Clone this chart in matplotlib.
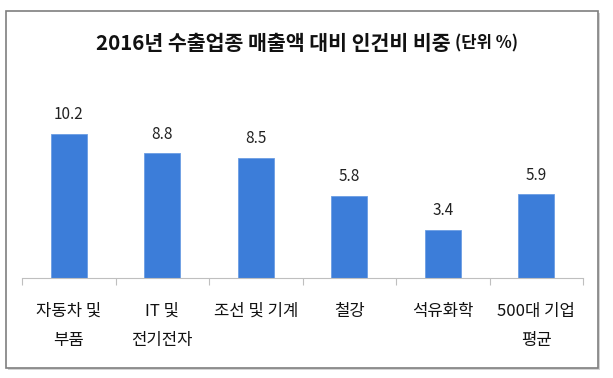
import matplotlib.pyplot as plt
from matplotlib.patches import Rectangle
import numpy as np

plt.rcParams['font.family'] = ['Noto Sans CJK KR', 'DejaVu Sans']

categories = ['자동차 및\n부품', 'IT 및\n전기전자', '조선 및 기계', '철강', '석유화학', '500대 기업\n평균']
values = [10.2, 8.8, 8.5, 5.8, 3.4, 5.9]

BAR_COLOR = '#3c7dd9'
W, H = 613, 378

fig = plt.figure(figsize=(W / 100, H / 100), dpi=100)

# outer frame with a faint shadow, like the spreadsheet chart box
fig.patches.append(Rectangle((8 / W, 1 - 370 / H), 592 / W, 357 / H, transform=fig.transFigure,
                             facecolor='#d4d4d4', edgecolor='none', zorder=0))
fig.patches.append(Rectangle((6 / W, 1 - 368 / H), 592 / W, 357 / H, transform=fig.transFigure,
                             facecolor='white', edgecolor='#7f7f7f', linewidth=1.2, zorder=1))

ax = fig.add_axes([22 / W, 100 / H, 561 / W, 170 / H])
ax.set_zorder(2)
ax.patch.set_alpha(0)

x = np.arange(len(categories))
ax.bar(x, values, width=0.39, color=BAR_COLOR, edgecolor='#6b9de3', linewidth=0.6)
for xi, v in zip(x, values):
    ax.text(xi, v + 0.75, f'{v:.1f}', ha='center', va='bottom', fontsize=11, color='#222222')

ax.set_xlim(-0.5, len(categories) - 0.5)
ax.set_ylim(0, 12)
ax.set_yticks([])
for s in ['top', 'right', 'left']:
    ax.spines[s].set_visible(False)
ax.spines['bottom'].set_color('#bfbfbf')

ax.set_xticks(x)
ax.set_xticklabels(categories, fontsize=12, linespacing=1.95, color='#111111')
ax.tick_params(axis='x', which='major', length=0, pad=18)
ax.set_xticks(np.arange(-0.5, len(categories)), minor=True)
ax.tick_params(axis='x', which='minor', length=5, color='#bfbfbf', width=0.8)

fig.text(451 / W, 1 - 43 / H, '2016년 수출업종 매출액 대비 인건비 비중', ha='right', va='center',
         fontsize=14.8, fontweight='bold', color='#111111')
fig.text(455 / W, 1 - 43 / H, '(단위 %)', ha='left', va='center',
         fontsize=12, fontweight='bold', color='#111111')

fig.savefig('out.png', dpi=100)
